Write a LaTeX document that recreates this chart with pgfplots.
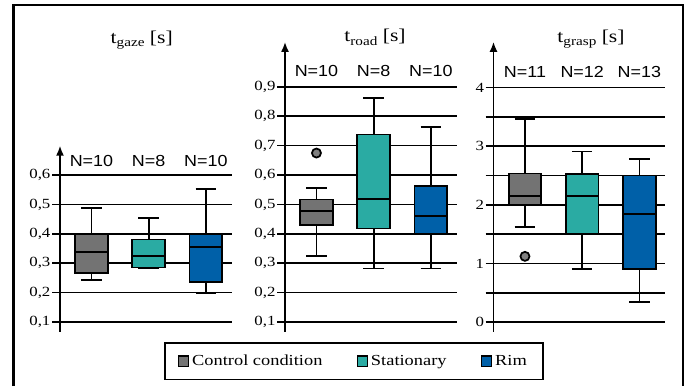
\documentclass[border=0pt]{standalone}
\usepackage{pgfplots}
\pgfplotsset{compat=1.18}
\usepgfplotslibrary{statistics}
\usetikzlibrary{arrows.meta}
\usepackage{fontspec}
\setmainfont{Liberation Serif}[FakeStretch=1.2]
\newfontfamily\nfont{Liberation Sans}[FakeStretch=1.12]
\definecolor{ctrl}{HTML}{737373}
\definecolor{stat}{HTML}{2AABA3}
\definecolor{rim}{HTML}{0060A8}
\definecolor{outl}{HTML}{808080}
\newcommand\ttl[1]{\fontsize{13.5}{15}\selectfont t\raisebox{-2.5pt}{\fontsize{9.5}{10}\selectfont #1} [s]}
\tikzset{nlab/.style={font=\nfont\fontsize{12}{13}\selectfont}}
\pgfplotsset{
 panel/.style={
  axis x line=none, axis y line=left,
  xmin=0.45, xmax=3.45, x=42.9pt,
  xtick=\empty,
  ymajorgrids, yminorgrids,
  major grid style={black, line width=1.2pt},
  minor grid style={black, line width=1.2pt},
  y axis line style={line width=1.3pt, -{Latex[length=7.5pt,width=6pt]}},
  tick align=outside, major tick length=6pt, minor tick length=6pt,
  tick style={black, line width=1.2pt},
  minor tick style={black, line width=1.2pt},
  yticklabel style={font=\fontsize{10.5}{12}\selectfont, inner sep=1pt},
  /pgf/number format/assume math mode=true,
  /pgf/number format/use comma,
  clip=false,
  anchor=south west,
  boxplot/draw direction=y,
 },
 bx/.style={black, line width=1.3pt, solid, mark=*, mark size=3.4pt,
   mark options={draw=none, fill=outl},
   boxplot/every box/.style={fill=#1, draw=black, line width=1.3pt},
   boxplot/every whisker/.style={black, line width=1.3pt},
   boxplot/every median/.style={black, line width=1.4pt}},
}
\begin{document}
\begin{tikzpicture}
\path[use as bounding box] (0pt,0pt) rectangle (516pt,289.5pt);
\draw[line width=2pt] (10.125pt,0pt) -- (10.125pt,285.75pt) -- (512.25pt,285.75pt) -- (512.25pt,0pt);

% ---------- t_gaze ----------
\begin{axis}[panel, at={(45pt,40.875pt)}, y=220.5pt, ymin=0.068, ymax=0.70,
  ytick={0.1,0.2,0.3,0.4,0.5,0.6},
  yticklabel style={/pgf/number format/.cd, fixed, fixed zerofill, precision=1}]
\addplot[bx=ctrl, boxplot prepared={draw position=1, lower whisker=0.243, lower quartile=0.267, median=0.337, upper quartile=0.400, upper whisker=0.487, box extend=0.57, whisker extend=0.36}] coordinates {};
\addplot[bx=stat, boxplot prepared={draw position=2, lower whisker=0.282, lower quartile=0.286, median=0.324, upper quartile=0.381, upper whisker=0.455, box extend=0.57, whisker extend=0.36}] coordinates {};
\addplot[bx=rim, boxplot prepared={draw position=3, lower whisker=0.200, lower quartile=0.236, median=0.354, upper quartile=0.400, upper whisker=0.553, box extend=0.57, whisker extend=0.36}] coordinates {};
\node[nlab] at (axis cs:1,0.648) {N=10};
\node[nlab] at (axis cs:2,0.648) {N=8};
\node[nlab] at (axis cs:3,0.648) {N=10};
\end{axis}

% ---------- t_road ----------
\begin{axis}[panel, at={(213.75pt,40.875pt)}, y=220.5pt, ymin=0.068, ymax=1.053,
  ytick={0.1,0.2,0.3,0.4,0.5,0.6,0.7,0.8,0.9},
  yticklabel style={/pgf/number format/.cd, fixed, fixed zerofill, precision=1},
  legend columns=3,
  legend cell align=left,
  legend style={at={(0.4015,-0.103)}, anchor=center, draw=black, line width=1.2pt,
    inner xsep=10pt, inner ysep=7pt,
    font=\fontsize{11.5}{13}\selectfont,
    /tikz/every even column/.append style={column sep=24pt}}]
\addlegendimage{legend image code/.code={\draw[draw=black, line width=0.9pt, fill=ctrl] (0pt,-3.8pt) rectangle (7.5pt,4pt);}}
\addlegendentry{Control condition}
\addlegendimage{legend image code/.code={\draw[draw=black, line width=0.9pt, fill=stat] (0pt,-3.8pt) rectangle (7.5pt,4pt);}}
\addlegendentry{Stationary}
\addlegendimage{legend image code/.code={\draw[draw=black, line width=0.9pt, fill=rim] (0pt,-3.8pt) rectangle (7.5pt,4pt);}}
\addlegendentry{Rim}
\addplot[bx=ctrl, boxplot prepared={draw position=1, lower whisker=0.324, lower quartile=0.431, median=0.479, upper quartile=0.517, upper whisker=0.556, box extend=0.57, whisker extend=0.36}] table[row sep=\\, y index=0] {data\\ 0.675\\};
\addplot[bx=stat, boxplot prepared={draw position=2, lower whisker=0.282, lower quartile=0.418, median=0.518, upper quartile=0.738, upper whisker=0.863, box extend=0.57, whisker extend=0.36}] coordinates {};
\addplot[bx=rim, boxplot prepared={draw position=3, lower whisker=0.282, lower quartile=0.400, median=0.462, upper quartile=0.562, upper whisker=0.763, box extend=0.57, whisker extend=0.36}] coordinates {};
\node[nlab] at (axis cs:1,0.953) {N=10};
\node[nlab] at (axis cs:2,0.953) {N=8};
\node[nlab] at (axis cs:3,0.953) {N=10};
\end{axis}

% ---------- t_grasp ----------
\begin{axis}[panel, at={(370.125pt,40.875pt)}, y=44.0pt, ymin=-0.158, ymax=4.78,
  ytick={0,1,2,3,4}, minor ytick={0.5,1.5,2.5,3.5},
  yticklabel style={/pgf/number format/.cd, fixed, precision=0}]
\addplot[bx=ctrl, boxplot prepared={draw position=1, lower whisker=1.623, lower quartile=2.0, median=2.154, upper quartile=2.534, upper whisker=3.466, box extend=0.57, whisker extend=0.36}] table[row sep=\\, y index=0] {data\\ 1.123\\};
\addplot[bx=stat, boxplot prepared={draw position=2, lower whisker=0.909, lower quartile=1.5, median=2.154, upper quartile=2.523, upper whisker=2.909, box extend=0.57, whisker extend=0.36}] coordinates {};
\addplot[bx=rim, boxplot prepared={draw position=3, lower whisker=0.346, lower quartile=0.909, median=1.84, upper quartile=2.5, upper whisker=2.777, box extend=0.57, whisker extend=0.36}] coordinates {};
\node[nlab] at (axis cs:1,4.265) {N=11};
\node[nlab] at (axis cs:2,4.265) {N=12};
\node[nlab] at (axis cs:3,4.265) {N=13};
\end{axis}

% titles
\node[anchor=base] at (106.3pt,257pt) {\ttl{gaze}};
\node[anchor=base] at (281.25pt,258.2pt) {\ttl{road}};
\node[anchor=base] at (443.25pt,257.5pt) {\ttl{grasp}};
\end{tikzpicture}
\end{document}
